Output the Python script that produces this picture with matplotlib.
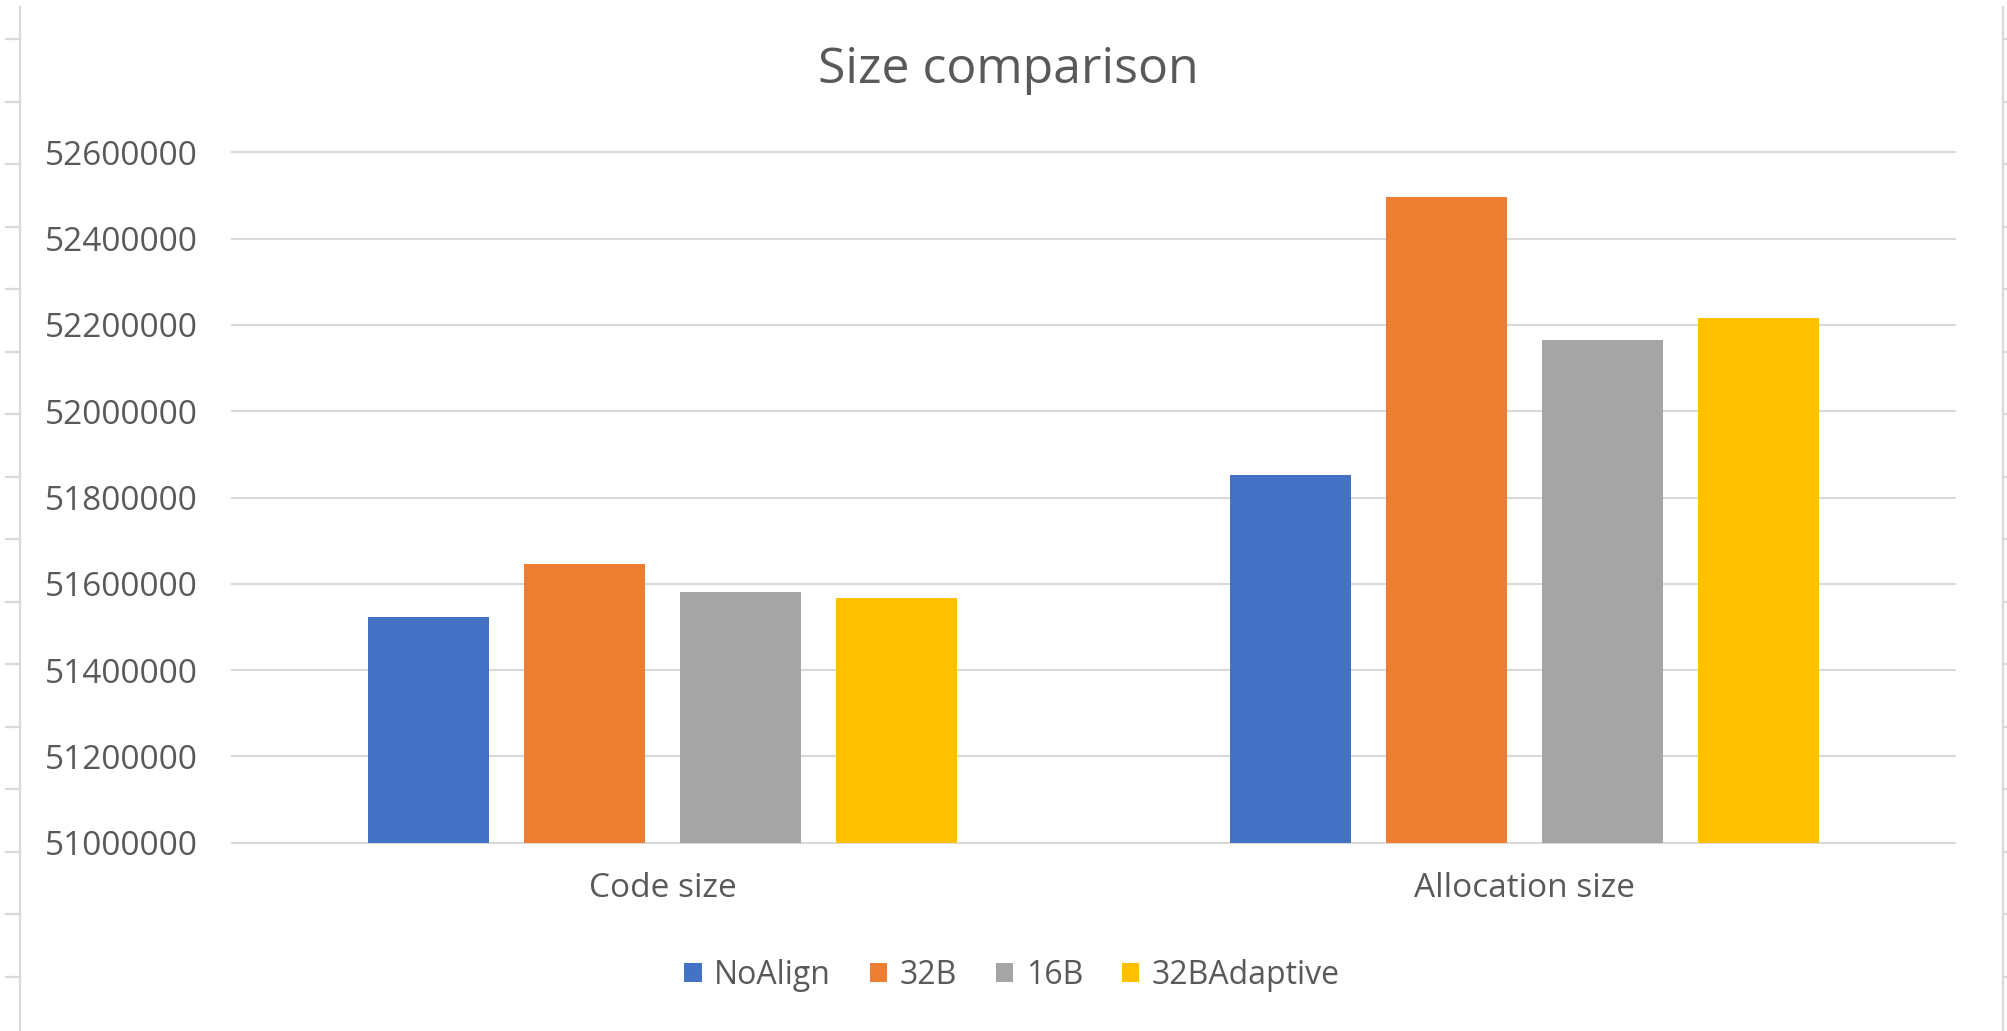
import matplotlib
matplotlib.use("Agg")
import matplotlib.pyplot as plt
from matplotlib.lines import Line2D
import numpy as np

plt.rcParams['font.family'] = ['Open Sans', 'DejaVu Sans']

# ---- data ----
categories = ["Code size", "Allocation size"]
series_names = ["NoAlign", "32B", "16B", "32BAdaptive"]
noalign = [51523000, 51853000]
b32 = [51646000, 52496000]
b16 = [51581000, 52165000]
b32adaptive = [51566000, 52215000]
y_ticks = [51000000, 51200000, 51400000, 51600000, 51800000,
           52000000, 52200000, 52400000, 52600000]
y_tick_labels = ["51000000", "51200000", "51400000", "51600000", "51800000",
                 "52000000", "52200000", "52400000", "52600000"]
title = "Size comparison"

colors = ["#4472C4", "#ED7D31", "#A5A5A5", "#FFC000"]
text_color = "#595959"
grid_color = "#D9D9D9"

W, H = 2008, 1031
fig = plt.figure(figsize=(W / 100, H / 100), dpi=100)
fig.patch.set_facecolor("white")

ax = fig.add_axes([232 / W, 1 - 842.6 / H, (1955 - 232) / W, (842.6 - 152.4) / H])

x = np.arange(len(categories))
bar_w = 0.1405
step = 0.181
all_series = [noalign, b32, b16, b32adaptive]
for i, (vals, name, c) in enumerate(zip(all_series, series_names, colors)):
    ax.bar(x + (i - 1.5) * step, vals, width=bar_w, color=c, label=name,
           zorder=3, linewidth=0)

ax.set_xlim(-0.5, len(categories) - 0.5)
ax.set_ylim(y_ticks[0], y_ticks[-1])
ax.set_yticks(y_ticks)
ax.set_yticklabels(y_tick_labels)
ax.set_xticks(x)
ax.set_xticklabels(categories)

for s in ax.spines.values():
    s.set_visible(False)
ax.tick_params(axis='y', length=0, pad=24.5, labelsize=24, labelcolor=text_color)
ax.tick_params(axis='x', length=0, pad=21.5, labelsize=24, labelcolor=text_color)
ax.grid(axis='y', color=grid_color, linewidth=1.5, zorder=0)
ax.set_axisbelow(True)
for gl in ax.get_ygridlines():
    gl.set_clip_on(False)

fig.text(1008 / W, 1 - 70 / H, title, ha='center', va='center',
         fontsize=36, color=text_color)

leg = fig.legend(loc='center', bbox_to_anchor=(1012 / W, 1 - 975 / H), ncol=4,
                 frameon=False, fontsize=23, handlelength=0.55, handleheight=0.55,
                 handletextpad=0.4, columnspacing=1.2, labelcolor=text_color)

# sheet-edge decorations (row markers of the surrounding worksheet)
edge_color = "#D9D9D9"
fig.add_artist(Line2D([20 / W, 20 / W], [0, 1 - 7 / H], transform=fig.transFigure,
                      color=edge_color, linewidth=1.6))
fig.add_artist(Line2D([2003 / W, 2003 / W], [0, 1 - 7 / H], transform=fig.transFigure,
                      color=edge_color, linewidth=1.6))
for k in range(16):
    yy = 1 - (39 + 62.5 * k) / H
    fig.add_artist(Line2D([6 / W, 20 / W], [yy, yy], transform=fig.transFigure,
                          color=edge_color, linewidth=1.6))
    fig.add_artist(Line2D([2003 / W, 2008 / W], [yy, yy], transform=fig.transFigure,
                          color=edge_color, linewidth=1.6))

fig.savefig("out.png", dpi=100, facecolor="white")
